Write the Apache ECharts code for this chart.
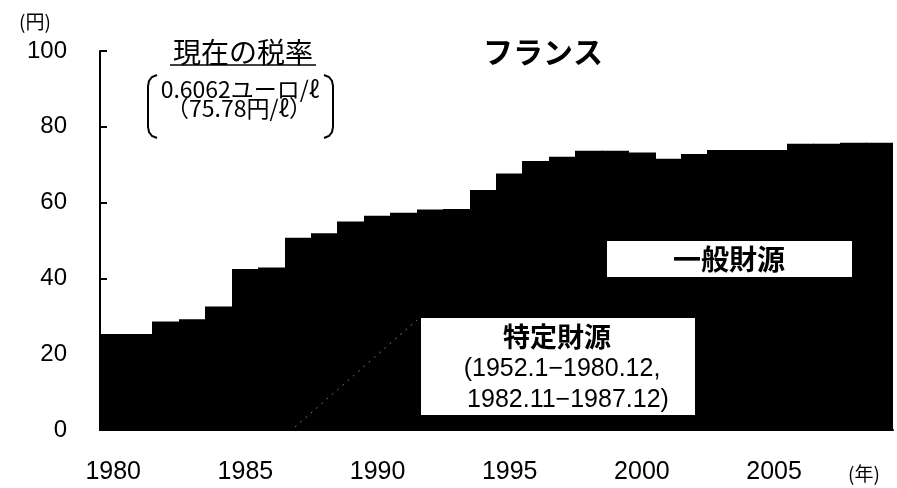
<!DOCTYPE html>
<html>
<head>
<meta charset="utf-8">
<script src="https://cdn.jsdelivr.net/npm/echarts@6/dist/echarts.min.js"></script>
<style>
html,body{margin:0;padding:0;background:#fff;}
#chart{width:897px;height:488px;}
</style>
</head>
<body>
<div id="chart"></div>
<script>
// Data (yen per litre, France fuel tax)
var years = ['1980','1981','1982','1983','1984','1985','1986','1987','1988','1989',
             '1990','1991','1992','1993','1994','1995','1996','1997','1998','1999',
             '2000','2001','2002','2003','2004','2005','2006','2007','2008','2009'];
var taxValues = [25.3, 25.3, 28.6, 29.2, 32.6, 42.5, 42.9, 50.7, 51.9, 55.0,
                 56.5, 57.3, 58.2, 58.3, 63.3, 67.7, 71.0, 72.1, 73.7, 73.7,
                 73.2, 71.6, 72.8, 73.9, 73.9, 73.9, 75.5, 75.5, 75.8, 75.8];
var yTicks = [0, 20, 40, 60, 80, 100];

var titleText = 'フランス';
var rateTitle = '現在の税率';
var rateLine1 = '0.6062ユーロ/ℓ';
var rateLine2 = '（75.78円/ℓ）';
var generalLabel = '一般財源';
var specialLabel = ['特定財源', '(1952.1−1980.12,', '1982.11−1987.12)'];

var JP = "Noto Sans CJK JP";
var NUM = "Liberation Sans";

function txt(x, y, s, size, family, weight, align) {
  return {type: 'text', x: x, y: y, z: 11,
    style: {text: s, fontSize: size, fontFamily: family, fontWeight: weight || 'normal',
            fill: '#000', align: align || 'center', verticalAlign: 'middle'}};
}

var chart = echarts.init(document.getElementById('chart'), null, {renderer: 'canvas'});

chart.setOption({
  backgroundColor: '#ffffff',
  animation: false,
  title: {
    text: titleText,
    left: 478, top: 32,
    textStyle: {fontFamily: JP, fontSize: 30, fontWeight: 'bold', color: '#000'}
  },
  grid: {left: 100, right: 4, top: 51, bottom: 58, containLabel: false},
  xAxis: {
    type: 'category',
    data: years,
    boundaryGap: true,
    axisLine: {show: true, lineStyle: {color: '#000', width: 2}},
    axisTick: {show: false},
    axisLabel: {
      interval: 4, margin: 30,
      fontFamily: NUM, fontSize: 25, color: '#000'
    },
    splitLine: {show: false}
  },
  yAxis: {
    type: 'value',
    min: yTicks[0], max: yTicks[yTicks.length - 1], interval: 20,
    axisLine: {show: true, lineStyle: {color: '#000', width: 2}},
    axisTick: {show: true, inside: true, length: 7, lineStyle: {color: '#000', width: 2}},
    axisLabel: {margin: 33, fontFamily: NUM, fontSize: 24, color: '#000'},
    splitLine: {show: false}
  },
  series: [{
    type: 'custom',
    data: taxValues.map(function (v, i) { return [i, v]; }),
    encode: {x: 0, y: 1},
    silent: true,
    z: 2,
    renderItem: function (params, api) {
      var top = api.coord([api.value(0), api.value(1)]);
      var base = api.coord([api.value(0), 0]);
      var w = api.size([1, 0])[0];
      var x0 = Math.floor(top[0] - w / 2);
      var x1 = Math.ceil(top[0] + w / 2);
      return {
        type: 'rect',
        shape: {x: x0, y: top[1], width: x1 - x0, height: base[1] - top[1]},
        style: {fill: '#000'}
      };
    }
  }],
  graphic: [
    txt(35, 22, '(円)', 19, JP),
    txt(864, 474, '(年)', 19, JP),
    txt(243, 52, rateTitle, 28, JP),
    {type: 'line', z: 10, shape: {x1: 170, y1: 65, x2: 316, y2: 65},
     style: {stroke: '#000', lineWidth: 1.5}},
    txt(240, 89, rateLine1, 23, JP),
    txt(239, 108, rateLine2, 23, JP),
    {type: 'polyline', z: 10,
     shape: {points: [[157,75],[152,77],[149,81],[148,86],[148,127],[149,132],[152,136],[157,138]]},
     style: {stroke: '#000', lineWidth: 2, fill: null}},
    {type: 'polyline', z: 10,
     shape: {points: [[324,75],[329,77],[332,81],[333,86],[333,127],[332,132],[329,136],[324,138]]},
     style: {stroke: '#000', lineWidth: 2, fill: null}},
    {type: 'rect', z: 10, shape: {x: 607, y: 241, width: 245, height: 36},
     style: {fill: '#fff'}},
    txt(729, 259, generalLabel, 28, JP, 'bold'),
    {type: 'rect', z: 10, shape: {x: 421, y: 318, width: 274, height: 97},
     style: {fill: '#fff'}},
    txt(557, 337, specialLabel[0], 27, JP, 'bold'),
    txt(562, 369, specialLabel[1], 25, NUM),
    txt(568, 400, specialLabel[2], 25, NUM),
    {type: 'line', z: 9, shape: {x1: 295, y1: 427, x2: 417, y2: 320},
     style: {stroke: '#777', lineWidth: 1, lineDash: [2, 5]}}
  ]
});
</script>
</body>
</html>
